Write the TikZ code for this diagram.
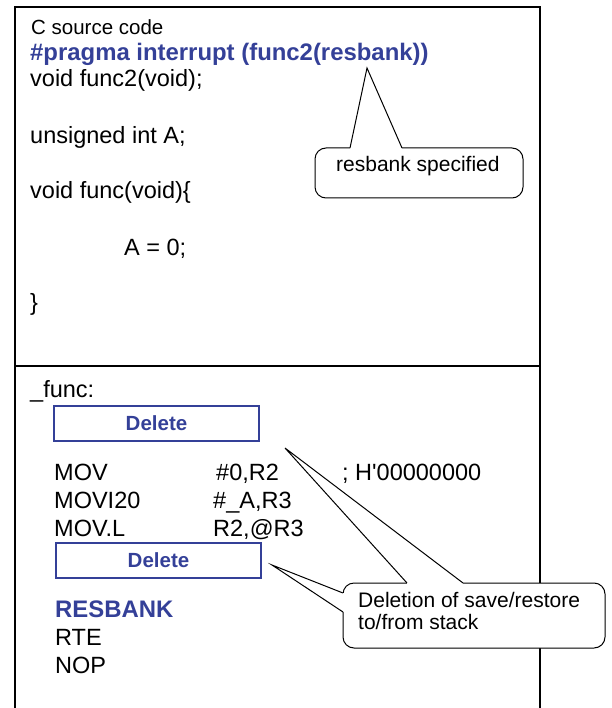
\documentclass[tikz,border=0pt]{standalone}
\usepackage{fontspec}
\setmainfont{Liberation Sans}[Ligatures=TeXOff]
\definecolor{codeblue}{RGB}{52,64,152}
\begin{document}
\begin{tikzpicture}[x=1pt,y=-1pt,
  txt/.style={anchor=base west,inner sep=0pt,font=\fontsize{23.5}{28}\selectfont},
  hdr/.style={anchor=base west,inner sep=0pt,font=\fontsize{20.5}{24}\selectfont},
  bluetxt/.style={anchor=base west,inner sep=0pt,text=codeblue,font=\fontsize{23.9}{28}\selectfont\bfseries},
  delbox/.style={draw=codeblue,line width=1.3pt,minimum width=205pt,minimum height=35pt,inner sep=0pt,text=codeblue,font=\fontsize{20.5}{24}\selectfont\bfseries},
  calloutbox/.style={draw,line width=1pt,fill=white,rounded corners=11pt,inner sep=0pt},
  ctxt/.style={anchor=base west,inner sep=0pt,font=\fontsize{21}{23}\selectfont},
  frame/.style={line width=1.8pt},
  pointer/.style={line width=1pt,line join=miter}]
\useasboundingbox (0,0) rectangle (611,708);

% outer frame
\coordinate (tl) at (15,7);
\coordinate (tr) at (540,7);
\coordinate (ml) at (15,366);
\coordinate (mr) at (540,366);
\coordinate (bl) at (15,708);
\coordinate (br) at (540,708);
\draw[frame] (bl) -- (tl) -- (tr) -- (br);
\draw[frame] (ml) -- (mr);

% top section: C source
\node[hdr] (t0) at (31,35) {C source code};
\node[bluetxt] (t1) at (30,61) {\#pragma interrupt (func2(resbank))};
\node[txt] (t2) at (30,87) {void func2(void);};
\node[txt] (t3) at (30,144) {unsigned int A;};
\node[txt] (t4) at (30,199) {void func(void)\{};
\node[txt] (t5) at (124,255) {A = 0;};
\node[txt] (t6) at (30,310) {\}};

% callout 1
\node[calloutbox,minimum width=208pt,minimum height=50pt] (c1) at (419,173) {};
\node[ctxt] (c1t) at (336,172) {resbank specified};
\coordinate (tip1) at (367,68);
\coordinate (b1a) at (350,148);
\coordinate (b1b) at (402,148);
\fill[white] (b1a) -- (tip1) -- (b1b) -- cycle;
\draw[white,line width=2pt] (b1a) -- (b1b);
\draw[pointer] (b1a) -- (tip1) -- (b1b);

% bottom section: assembly
\node[txt] (a0) at (30,397) {\_func:};
\node[delbox] (d1) at (156.5,423.5) {Delete};
\node[txt] (a1) at (54,480) {MOV};
\node[txt] (a1b) at (216,480) {\#0,R2};
\node[txt] (a1c) at (342,480) {; H'00000000};
\node[txt] (a2) at (54,508) {MOVI20};
\node[txt] (a2b) at (213,508) {\#\_A,R3};
\node[txt] (a3) at (54,536) {MOV.L};
\node[txt] (a3b) at (213,536) {R2,@R3};
\node[delbox] (d2) at (158.5,560.5) {Delete};
\node[bluetxt] (a4) at (55,617) {RESBANK};
\node[txt] (a5) at (55,645) {RTE};
\node[txt] (a6) at (55,673) {NOP};

% callout 2
\node[calloutbox,minimum width=262pt,minimum height=65pt] (c2) at (474,615.5) {};
\node[ctxt] (c2t1) at (358,607) {Deletion of save/restore};
\node[ctxt] (c2t2) at (358,629) {to/from stack};
\coordinate (tip2) at (285,448);
\coordinate (b2a) at (407,583);
\coordinate (b2b) at (463,583);
\fill[white] (b2a) -- (tip2) -- (b2b) -- cycle;
\draw[white,line width=2pt] (b2a) -- (b2b);
\draw[pointer] (b2a) -- (tip2) -- (b2b);
\coordinate (tip3) at (272,565);
\coordinate (b3a) at (343,593);
\coordinate (b3b) at (343,612);
\fill[white] (b3a) -- (tip3) -- (b3b) -- cycle;
\draw[white,line width=2pt] (b3a) -- (b3b);
\draw[pointer] (b3a) -- (tip3) -- (b3b);
\end{tikzpicture}
\end{document}
